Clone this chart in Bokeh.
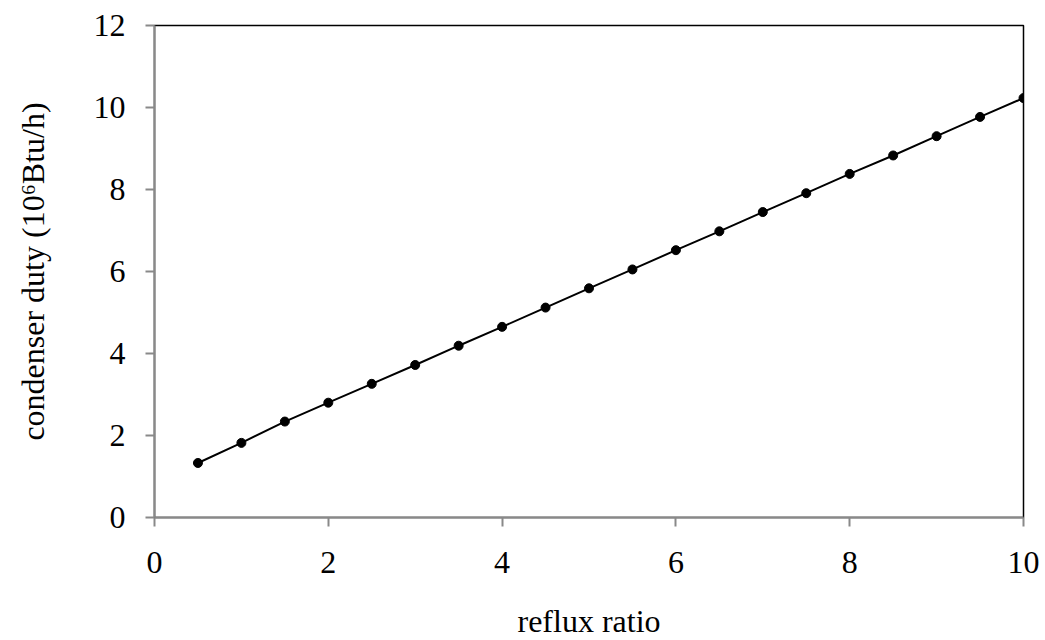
from bokeh.plotting import figure
from bokeh.embed import file_html
from bokeh.resources import INLINE
from bokeh.models import FixedTicker, Range1d

reflux_ratio = [0.5, 1.0, 1.5, 2.0, 2.5, 3.0, 3.5, 4.0, 4.5, 5.0,
                5.5, 6.0, 6.5, 7.0, 7.5, 8.0, 8.5, 9.0, 9.5, 10.0]
condenser_duty = [1.33, 1.82, 2.34, 2.80, 3.26, 3.72, 4.19, 4.65, 5.12, 5.59,
                  6.05, 6.52, 6.98, 7.45, 7.91, 8.38, 8.83, 9.30, 9.77, 10.23]
x_ticks = [0, 2, 4, 6, 8, 10]
y_ticks = [0, 2, 4, 6, 8, 10, 12]

FONT = "Liberation Serif"

p = figure(width=1045, height=640, output_backend="svg", toolbar_location=None,
           x_range=Range1d(0, 10), y_range=Range1d(0, 12),
           frame_width=869, frame_height=492,
           min_border_left=154, min_border_top=25, min_border_right=22, min_border_bottom=123)

p.line(reflux_ratio, condenser_duty, line_color="black", line_width=2)
p.scatter(reflux_ratio, condenser_duty, size=9, fill_color="black", line_color="black")

p.grid.visible = False
p.outline_line_color = "black"
p.outline_line_width = 1.5

for ax in (p.xaxis[0], p.yaxis[0]):
    ax.axis_line_color = "#898989"
    ax.axis_line_width = 2
    ax.major_tick_line_color = "#898989"
    ax.major_tick_line_width = 2
    ax.major_tick_out = 9
    ax.major_tick_in = 0
    ax.minor_tick_line_color = None
    ax.major_label_text_font = FONT
    ax.major_label_text_font_size = "32px"
    ax.major_label_text_color = "black"
    ax.axis_label_text_font = FONT
    ax.axis_label_text_font_size = "32px"
    ax.axis_label_text_font_style = "normal"
    ax.axis_label_text_color = "black"

p.xaxis[0].ticker = FixedTicker(ticks=x_ticks)
p.yaxis[0].ticker = FixedTicker(ticks=y_ticks)
p.xaxis[0].major_label_standoff = 25
p.yaxis[0].major_label_standoff = 20
p.xaxis[0].axis_label = "reflux ratio"
p.yaxis[0].axis_label = "condenser duty (10\u2076Btu/h)"
p.xaxis[0].axis_label_standoff = 27
p.yaxis[0].axis_label_standoff = 40

open("out.html", "w").write(file_html(p, INLINE))
